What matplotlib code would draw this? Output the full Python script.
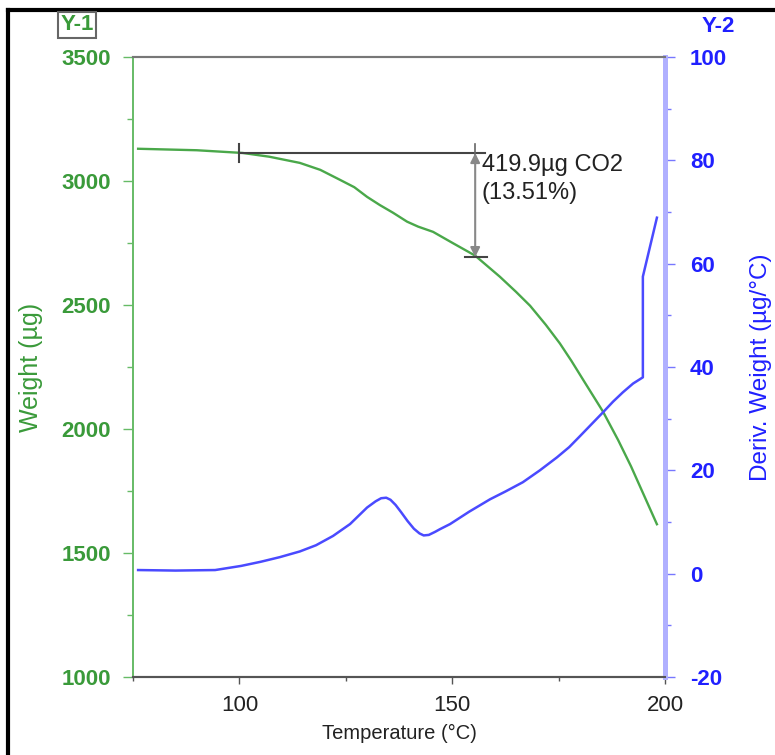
import matplotlib.pyplot as plt
from matplotlib.lines import Line2D

plt.rcParams['font.family'] = ['Liberation Sans', 'DejaVu Sans']
plt.rcParams['axes.unicode_minus'] = False

# weight curve (Y-1)
temp_w = [76.2, 90.0, 100.8, 107.0, 114.2, 119.0, 123.6, 127.0, 130.0, 133.0, 136.1,
          139.4, 142.0, 145.5, 150.0, 155.4, 161.2, 165.0, 168.3, 172.0, 175.3,
          178.0, 181.0, 185.4, 189.0, 192.0, 195.0, 198.1]
weight = [3130, 3124, 3113, 3098, 3073, 3045, 3005, 2975, 2936, 2903, 2872,
          2836, 2816, 2795, 2751, 2699, 2614, 2553, 2497, 2420, 2345,
          2275, 2192, 2071, 1955, 1850, 1735, 1616]

# derivative curve (Y-2)
temp_d = [76.2, 85.0, 94.3, 100.4, 105.0, 109.5, 114.2, 118.0, 122.0, 126.0, 128.0,
          130.0, 132.0, 133.3, 134.5, 135.5, 136.7, 138.0, 139.5, 141.0, 142.3,
          143.3, 144.5, 146.0, 147.1, 149.5, 154.0, 158.9, 162.5, 166.6, 170.6,
          174.6, 177.5, 180.0, 182.7, 185.4, 187.8, 190.1, 192.5, 194.8, 194.8, 198.1]
deriv = [0.7, 0.6, 0.7, 1.5, 2.3, 3.2, 4.3, 5.5, 7.3, 9.6, 11.2,
         12.8, 14.0, 14.6, 14.7, 14.3, 13.3, 11.9, 10.2, 8.7, 7.8,
         7.4, 7.5, 8.1, 8.6, 9.6, 12.0, 14.4, 15.9, 17.7, 20.0,
         22.5, 24.5, 26.6, 28.9, 31.2, 33.3, 35.1, 36.8, 38.0, 57.5, 68.9]

w_start, w_end = 3113, 2693
loss_lines = ["419.9\u00b5g CO2", "(13.51%)"]

green = '#3a9a3a'
blue = '#2020ff'

fig = plt.figure(figsize=(7.75, 7.55), dpi=100)
ax = fig.add_axes([133 / 775, 1 - 677 / 755, (665 - 133) / 775, (677 - 57) / 755])
ax2 = ax.twinx()

ax.plot(temp_w, weight, color='#4aa84a', lw=1.7)
ax2.plot(temp_d, deriv, color='#4a4aff', lw=1.8)

ax.set_xlim(75, 200)
ax.set_ylim(1000, 3500)
ax2.set_ylim(-20, 100)

ax.set_xticks([100, 150, 200])
ax.set_xticks([75, 125, 175], minor=True)
ax.set_yticks(range(1000, 3501, 500))
ax.set_yticks(range(1250, 3500, 500), minor=True)
ax2.set_yticks(range(-20, 101, 20))
ax2.set_yticks(range(-10, 100, 20), minor=True)

ax.tick_params(axis='x', which='major', length=5, width=1, color='#555555', labelsize=16,
               labelcolor='#222222', pad=8)
ax.tick_params(axis='x', which='minor', length=3, width=1, color='#555555')
ax.tick_params(axis='y', which='major', length=7, width=1, color='#66bb66', labelsize=16,
               labelcolor=green, pad=9)
ax.tick_params(axis='y', which='minor', length=4, width=1, color='#66bb66')
ax2.tick_params(axis='y', which='major', length=7, width=1, color='#7777ff', labelsize=16,
                labelcolor=blue, pad=11)
ax2.tick_params(axis='y', which='minor', length=4, width=1, color='#7777ff')
for lab in ax.get_yticklabels() + ax2.get_yticklabels():
    lab.set_fontweight('bold')

for a in (ax, ax2):
    a.spines['left'].set_color('#66bb66')
    a.spines['left'].set_linewidth(1.2)
    a.spines['right'].set_color('#b0b0ff')
    a.spines['right'].set_linewidth(3.5)
    a.spines['top'].set_color('#777777')
    a.spines['top'].set_linewidth(1.5)
    a.spines['bottom'].set_color('#555555')
    a.spines['bottom'].set_linewidth(1.5)

ax.set_xlabel('Temperature (\u00b0C)', fontsize=14.5, color='#222222', labelpad=6)
ax.set_ylabel('Weight (\u00b5g)', fontsize=18, color=green)
ax2.set_ylabel('Deriv. Weight (\u00b5g/\u00b0C)', fontsize=17.5, color=blue)
ax.yaxis.set_label_coords(-0.169, 0.5)
ax2.yaxis.set_label_coords(1.160, 0.5)

# weight-loss measurement
ax.plot([100, 157.7], [w_start, w_start], color='#444444', lw=1.5)
ax.plot([100, 100], [w_start - 35, w_start + 35], color='#444444', lw=1.5)
ax.plot([155.4, 155.4], [w_start - 30, w_start + 35], color='#666666', lw=1.2)
ax.plot([153.0, 158.2], [w_end, w_end], color='#444444', lw=1.5)
ax.annotate('', xy=(155.4, w_end), xytext=(155.4, w_start),
            arrowprops=dict(arrowstyle='<|-|>', color='#888888', lw=1.5,
                            mutation_scale=14, shrinkA=0, shrinkB=0))
ax.text(157.0, 3065, loss_lines[0], fontsize=17, color='#222222', va='center', ha='left')
ax.text(157.0, 2952, loss_lines[1], fontsize=17, color='#222222', va='center', ha='left')

# Y-1 / Y-2 headers
fig.text(77 / 775, 1 - 25 / 755, 'Y-1', fontsize=16, fontweight='bold', color=green,
         ha='center', va='center',
         bbox=dict(boxstyle='square,pad=0.12', fc='white', ec='#666666', lw=1.5))
fig.text(718 / 775, 1 - 26 / 755, 'Y-2', fontsize=16, fontweight='bold', color=blue,
         ha='center', va='center')

# screenshot frame
fig.add_artist(Line2D([8 / 775, 8 / 775], [0, 1 - 10 / 755], transform=fig.transFigure,
                      color='black', lw=3))
fig.add_artist(Line2D([8 / 775, 1], [1 - 10 / 755, 1 - 10 / 755], transform=fig.transFigure,
                      color='black', lw=3))

fig.savefig('out.png', dpi=100)
